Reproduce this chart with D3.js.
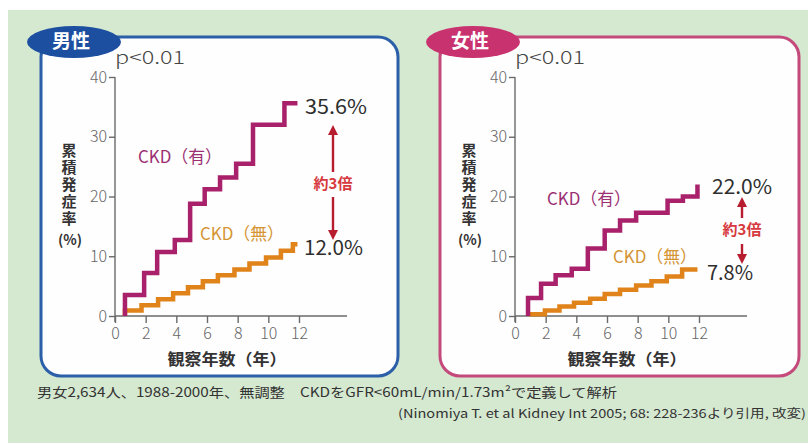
<!DOCTYPE html>
<html>
<head>
<meta charset="utf-8">
<script src="https://cdn.jsdelivr.net/npm/d3@7"></script>
<style>
  html, body { margin: 0; padding: 0; background: #ffffff; }
  svg { display: block; }
  text { font-family: "Noto Sans CJK JP", "Noto Sans", sans-serif; }
  .vtitle { writing-mode: vertical-rl; text-orientation: upright; }
</style>
</head>
<body>
<svg id="chart" width="808" height="443"></svg>
<script>
// Cumulative incidence (%) by years of follow-up, step curves
const xTicks = [0, 2, 4, 6, 8, 10, 12];
const yTicks = [0, 10, 20, 30, 40];

// Men
const maleWithYears = [0.65, 0.65, 1.9, 2.75, 3.9, 4.9, 5.85, 6.85, 7.9, 9.0, 11.05, 11.9];
const maleWithRates = [0, 3.5, 7.2, 10.7, 12.7, 18.8, 21.2, 23.2, 25.5, 32.0, 35.6, 35.6];
const maleWithoutYears = [0.65, 0.65, 1.73, 2.81, 3.79, 4.76, 5.73, 6.71, 7.79, 8.77, 9.85, 10.82, 11.6, 11.9];
const maleWithoutRates = [0, 0.9, 1.8, 2.8, 3.8, 4.8, 5.8, 6.8, 7.8, 8.8, 9.8, 10.9, 12.0, 12.0];

// Women
const femaleWithYears = [0.85, 0.85, 1.7, 2.65, 3.7, 4.75, 5.85, 6.85, 7.9, 9.95, 10.95, 11.9];
const femaleWithRates = [0, 3.0, 5.4, 6.8, 7.9, 11.3, 14.3, 16.0, 17.3, 19.3, 20.0, 22.0];
const femaleWithoutYears = [0.9, 0.9, 1.95, 2.9, 3.85, 4.9, 5.85, 6.85, 7.9, 8.9, 9.9, 10.9, 11.9];
const femaleWithoutRates = [0, 0.3, 0.9, 1.6, 2.2, 2.9, 3.7, 4.4, 5.1, 5.8, 6.6, 7.8, 7.8];

const panelTitles = ["男性", "女性"];
const finalLabels = [["35.6%", "12.0%"], ["22.0%", "7.8%"]];
const seriesNames = ["CKD（有）", "CKD（無）"];
const pValueText = "p<0.01";
const ratioText = "約3倍";
const yTitle = "累積発症率";
const yUnit = "(%)";
const xTitle = "観察年数（年）";
const footnote1 = "男女2,634人、1988-2000年、無調整　CKDをGFR<60mL/min/1.73m²で定義して解析";
const footnote2 = "(Ninomiya T. et al Kidney Int 2005; 68: 228-236より引用, 改変)";

const svg = d3.select("#chart");

// Mint background with a thin white margin on top/left
svg.append("rect").attr("x", 8).attr("y", 10).attr("width", 800).attr("height", 433)
  .attr("fill", "#d5e8d0");

const colWith = "#a8216a";
const colWithout = "#e0831a";
const zip = (xs, ys) => xs.map((d, i) => [d, ys[i]]);

const panels = [
  { dx: 0, box: [41, 37, 357, 339], border: "#2b5fa8", pill: "#1c4f9f", pillCx: 74,
    withData: zip(maleWithYears, maleWithRates), withoutData: zip(maleWithoutYears, maleWithoutRates),
    withLabelPos: [138, 158], withoutLabelPos: [200, 235],
    valueOffsets: [[6, 5], [5, 5]], valueWidths: [62, 59],
    arrow: { x: 333, upTop: 125, upBot: 172, text: 185, dnTop: 197, dnBot: 240 } },
  { dx: 400, box: [440, 37, 359, 339], border: "#c44a7c", pill: "#c8326f", pillCx: 473,
    withData: zip(femaleWithYears, femaleWithRates), withoutData: zip(femaleWithoutYears, femaleWithoutRates),
    withLabelPos: [547, 200], withoutLabelPos: [613, 258],
    valueOffsets: [[13, 4], [8, 5]], valueWidths: [60, 46],
    arrow: { x: 742, upTop: 197, upBot: 218, text: 231, dnTop: 244, dnBot: 264 } }
];

panels.forEach((p, pi) => {
  const g = svg.append("g");
  const [bx, by, bw, bh] = p.box;
  g.append("rect").attr("x", bx).attr("y", by).attr("width", bw).attr("height", bh)
    .attr("rx", 20).attr("fill", "#fefefe").attr("stroke", p.border).attr("stroke-width", 3);

  // title pill
  g.append("ellipse").attr("cx", p.pillCx).attr("cy", 42).attr("rx", 47).attr("ry", 16)
    .attr("fill", p.pill);
  g.append("text").attr("x", p.pillCx - 3).attr("y", 43).attr("text-anchor", "middle")
    .attr("dominant-baseline", "middle").attr("fill", "#ffffff").attr("font-size", 19)
    .attr("font-weight", 700).text(panelTitles[pi]);

  const x = d3.scaleLinear().domain([0, 12]).range([115 + p.dx, 299 + p.dx]);
  const y = d3.scaleLinear().domain([0, 40]).range([316, 77]);

  // axes
  const xAxis = g.append("g").attr("transform", `translate(0,${y(0)})`)
    .call(d3.axisBottom(x).tickValues(xTicks).tickSize(7).tickPadding(5).tickSizeOuter(0));
  xAxis.select(".domain").remove();
  g.append("line").attr("x1", x(0)).attr("x2", x(0) + 232).attr("y1", y(0)).attr("y2", y(0))
    .attr("stroke", "#6a6a6a").attr("stroke-width", 1.4);

  const yAxis = g.append("g").attr("transform", `translate(${x(0)},0)`)
    .call(d3.axisLeft(y).tickValues(yTicks).tickSize(6).tickPadding(2).tickSizeOuter(0));
  yAxis.select(".domain").remove();
  g.append("line").attr("x1", x(0)).attr("x2", x(0)).attr("y1", y(40)).attr("y2", y(0) + 6)
    .attr("stroke", "#6a6a6a").attr("stroke-width", 1.4);

  [xAxis, yAxis].forEach(a => {
    a.selectAll(".tick line").attr("stroke", "#6a6a6a").attr("stroke-width", 1.4);
    a.selectAll(".tick text").attr("fill", "#666").attr("font-size", 16)
      .attr("font-family", "'Noto Sans CJK JP', sans-serif").attr("font-weight", 300);
  });

  // p value
  g.append("text").attr("x", x(0)).attr("y", 64).attr("fill", "#444").attr("font-size", 18)
    .attr("font-weight", 300).attr("textLength", 70).attr("lengthAdjust", "spacingAndGlyphs")
    .text(pValueText);

  // axis titles: vertical title set top-to-bottom
  g.append("text").attr("class", "vtitle").attr("x", 69 + p.dx).attr("y", 143)
    .attr("fill", "#333").attr("font-size", 15).attr("font-weight", 700)
    .attr("letter-spacing", 2).text(yTitle);
  g.append("text").attr("x", 70 + p.dx).attr("y", 241).attr("text-anchor", "middle")
    .attr("dominant-baseline", "middle").attr("fill", "#333").attr("font-size", 14)
    .attr("font-weight", 700).text(yUnit);
  g.append("text").attr("x", x(6) + 20).attr("y", 361).attr("text-anchor", "middle")
    .attr("dominant-baseline", "middle").attr("fill", "#333").attr("font-size", 16)
    .attr("font-weight", 700).attr("textLength", 119).attr("lengthAdjust", "spacingAndGlyphs")
    .text(xTitle);

  // step curves
  const line = d3.line().x(d => x(d[0])).y(d => y(d[1])).curve(d3.curveStepAfter);
  g.append("path").datum(p.withoutData).attr("d", line).attr("fill", "none")
    .attr("stroke", colWithout).attr("stroke-width", 4.5).attr("stroke-linejoin", "miter");
  g.append("path").datum(p.withData).attr("d", line).attr("fill", "none")
    .attr("stroke", colWith).attr("stroke-width", 4.5).attr("stroke-linejoin", "miter");

  // series labels
  g.append("text").attr("x", p.withLabelPos[0]).attr("y", p.withLabelPos[1])
    .attr("dominant-baseline", "middle").attr("fill", "#9b2f72").attr("font-size", 17)
    .attr("textLength", 84).attr("lengthAdjust", "spacingAndGlyphs").text(seriesNames[0]);
  g.append("text").attr("x", p.withoutLabelPos[0]).attr("y", p.withoutLabelPos[1])
    .attr("dominant-baseline", "middle").attr("fill", "#d49433").attr("font-size", 17)
    .attr("textLength", 84).attr("lengthAdjust", "spacingAndGlyphs").text(seriesNames[1]);

  // end values
  const ends = [p.withData[p.withData.length - 1][1], p.withoutData[p.withoutData.length - 1][1]];
  ends.forEach((v, i) => {
    g.append("text").attr("x", x(12) + p.valueOffsets[i][0]).attr("y", y(v) + p.valueOffsets[i][1])
      .attr("dominant-baseline", "middle").attr("fill", "#2e2e2e").attr("font-size", 20)
      .attr("font-weight", 400).attr("textLength", p.valueWidths[i])
      .attr("lengthAdjust", "spacingAndGlyphs").text(finalLabels[pi][i]);
  });

  // ratio arrows
  const a = p.arrow, ac = "#b81d2f";
  g.append("line").attr("x1", a.x).attr("x2", a.x).attr("y1", a.upTop + 8).attr("y2", a.upBot)
    .attr("stroke", ac).attr("stroke-width", 2.4);
  g.append("path").attr("d", `M${a.x - 5},${a.upTop + 10}L${a.x},${a.upTop}L${a.x + 5},${a.upTop + 10}Z`).attr("fill", ac);
  g.append("line").attr("x1", a.x).attr("x2", a.x).attr("y1", a.dnTop).attr("y2", a.dnBot - 8)
    .attr("stroke", ac).attr("stroke-width", 2.4);
  g.append("path").attr("d", `M${a.x - 5},${a.dnBot - 10}L${a.x},${a.dnBot}L${a.x + 5},${a.dnBot - 10}Z`).attr("fill", ac);
  g.append("text").attr("x", a.x).attr("y", a.text).attr("text-anchor", "middle")
    .attr("dominant-baseline", "middle").attr("fill", "#d63a3f").attr("font-size", 15)
    .attr("font-weight", 700).text(ratioText);
});

// footnotes
svg.append("text").attr("x", 37).attr("y", 397).attr("fill", "#333").attr("font-size", 13)
  .attr("textLength", 580).attr("lengthAdjust", "spacingAndGlyphs").text(footnote1);
svg.append("text").attr("x", 806).attr("y", 418).attr("text-anchor", "end").attr("fill", "#333")
  .attr("font-size", 12).attr("textLength", 408).attr("lengthAdjust", "spacingAndGlyphs")
  .text(footnote2);
</script>
</body>
</html>
